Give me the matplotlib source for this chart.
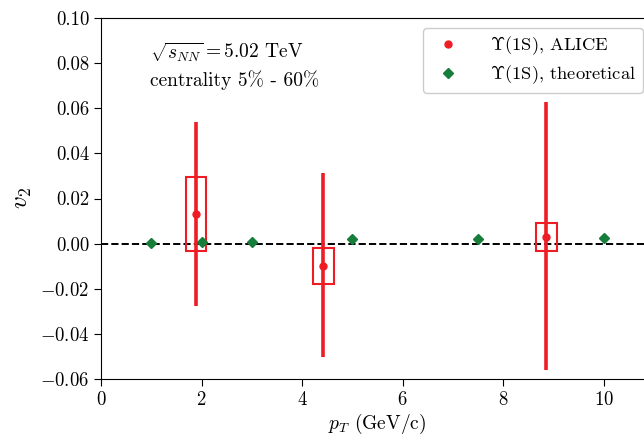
import matplotlib
matplotlib.use("Agg")
import matplotlib.pyplot as plt
from matplotlib.lines import Line2D
from matplotlib.patches import Rectangle

plt.rcParams["font.family"] = "serif"
plt.rcParams["font.serif"] = ["cmr10"]
plt.rcParams["mathtext.fontset"] = "cm"
plt.rcParams["axes.formatter.use_mathtext"] = True

# ALICE measurement
alice_pt = [1.89, 4.42, 8.86]
alice_v2 = [0.0131, -0.0099, 0.0031]
alice_stat_lo = [0.0409, 0.0404, 0.0591]
alice_stat_hi = [0.0408, 0.0411, 0.0597]
alice_syst_lo = [-0.0033, -0.0180, -0.0033]
alice_syst_hi = [0.0294, -0.0018, 0.0093]
box_width = 0.41

# theoretical prediction
theo_pt = [1.0, 2.0, 3.0, 5.0, 7.5, 10.0]
theo_v2 = [0.0004, 0.0006, 0.0008, 0.0019, 0.0021, 0.0023]

red = "#ee1d25"
green = "#167d3a"

fig = plt.figure(figsize=(6.44, 4.36), dpi=100)
ax = fig.add_axes([101 / 644, 57 / 436, 553 / 644, 361 / 436])

ax.axhline(0, color="black", linestyle="--", linewidth=1.4, zorder=1)

for x, lo, hi in zip(alice_pt, alice_syst_lo, alice_syst_hi):
    ax.add_patch(Rectangle((x - box_width / 2, lo), box_width, hi - lo,
                           fill=False, edgecolor=red, linewidth=1.5, zorder=2))

ax.errorbar(alice_pt, alice_v2, yerr=[alice_stat_lo, alice_stat_hi], fmt="o",
            color=red, ecolor=red, elinewidth=2.6, capsize=0, markersize=5,
            zorder=3)
ax.plot(theo_pt, theo_v2, "D", color=green, markersize=5.5, linestyle="none",
        zorder=4)

ax.set_xlim(0, 11)
ax.set_ylim(-0.06, 0.10)
ax.set_xticks([0, 2, 4, 6, 8, 10])
ax.set_yticks([-0.06, -0.04, -0.02, 0.0, 0.02, 0.04, 0.06, 0.08, 0.10])
ax.yaxis.set_major_formatter(matplotlib.ticker.FuncFormatter(
    lambda v, p: (r"$-$" if v < -1e-9 else "") + f"{abs(v):.2f}"))
ax.tick_params(direction="out", labelsize=13.5, length=5)
ax.spines["right"].set_visible(False)

ax.set_xlabel(r"$p_T$ (GeV/c)", fontsize=14, labelpad=2)
ax.set_ylabel(r"$v_2$", fontsize=18)

ax.text(0.97, 0.0849, r"$\sqrt{s_{NN}} = 5.02$ TeV", fontsize=14, va="center")
ax.text(0.97, 0.0725, "centrality 5% - 60%", fontsize=14, va="center")

handles = [
    Line2D([], [], marker="o", color=red, linestyle="none", markersize=5),
    Line2D([], [], marker="D", color=green, linestyle="none", markersize=5.5),
]
labels = [r"$\Upsilon$(1S), ALICE", r"$\Upsilon$(1S), theoretical"]
ax.legend(handles, labels, loc="upper right",
          bbox_to_anchor=(643 / 644, 1 - 28 / 436),
          bbox_transform=fig.transFigure, borderaxespad=0, fontsize=13.3,
          handletextpad=1.3, labelspacing=0.35, borderpad=0.35,
          framealpha=1)

fig.savefig("out.png", dpi=100)
